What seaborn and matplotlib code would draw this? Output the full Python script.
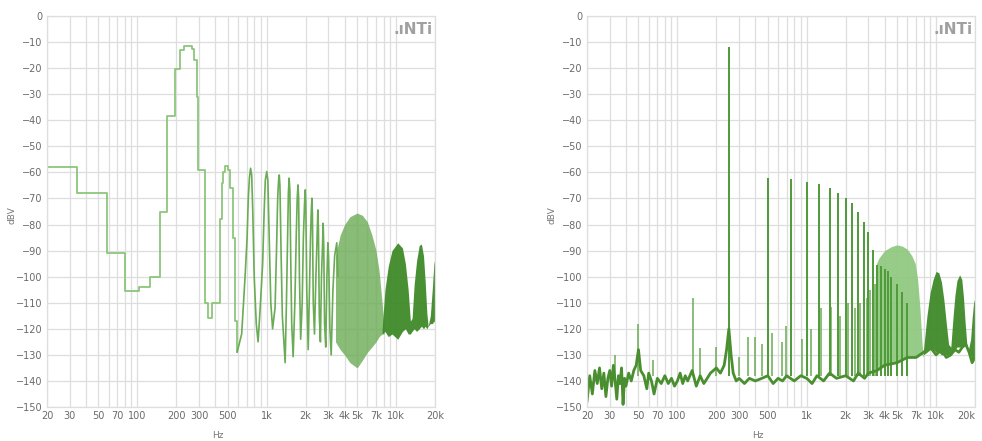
import numpy as np
import pandas as pd
import matplotlib
matplotlib.use("Agg")
import matplotlib.pyplot as plt
import seaborn as sns
from matplotlib.ticker import FixedLocator, NullFormatter

# --- left panel: low resolution spectrum (step trace) ---
step_hz = [20, 34, 58, 80, 102, 125, 150, 169, 195, 214, 230, 262, 272, 288, 296,
           334, 350, 380, 436, 448, 460, 474, 504, 519, 545, 567, 590]
step_db = [-58, -68, -91, -105.5, -104, -100, -75, -38.5, -20.5, -13, -11.5, -12.5,
           -17, -31, -59, -110, -116, -110, -78, -64, -60, -57.5, -59, -66, -85, -117, -129]

lobe_hz = [590, 640, 680, 705, 720, 735, 750, 765, 780, 800, 830, 857, 890, 930, 955,
           975, 1000, 1020, 1045, 1075, 1110, 1160, 1190, 1215, 1235, 1250, 1265, 1290,
           1320, 1388, 1420, 1450, 1470, 1490, 1510, 1535, 1560, 1600, 1650, 1690, 1720,
           1745, 1765, 1790, 1830, 1880, 1920, 1960, 1985, 2005, 2040, 2092, 2140, 2180,
           2210, 2235, 2255, 2290, 2340, 2400, 2450, 2485, 2510, 2550, 2600, 2650, 2700,
           2730, 2760, 2800, 2860, 2920, 2970, 3010, 3080, 3150, 3250, 3350, 3480, 3550]
lobe_db = [-129, -122, -100, -85, -70, -62, -58.4, -61, -75, -100, -118, -125, -112, -95,
           -75, -63, -59.7, -63, -85, -110, -120, -112, -90, -70, -63, -61, -65, -90,
           -115, -133, -110, -85, -68, -62.2, -67, -95, -118, -130.7, -110, -85, -70,
           -64.8, -70, -100, -124, -110, -85, -72, -66.7, -72, -105, -128, -105, -85,
           -75, -69.9, -76, -110, -122, -100, -85, -74.4, -82, -115, -125, -100, -88,
           -79.5, -88, -118, -127, -100, -87, -93, -120, -130, -105, -92, -87, -100]

# dense high frequency humps of the left panel (upper / lower envelope)
l_hump_hz = [3400, 3700, 4000, 4400, 5000, 5500, 6000, 6500, 7000, 7400, 7800, 8100]
l_hump_top = [-92, -84, -80, -77, -75.6, -76.5, -79, -84, -90, -98, -110, -120]
l_hump_low = [-125, -128, -130, -133, -135, -132, -129, -127, -125, -123, -122, -122]
l_lobes_hz = [7800, 8200, 8700, 9300, 10300, 11200, 11800, 12400, 12900, 13300, 13800,
              14400, 15100, 15700, 16300, 16800, 17300, 17700, 18400, 19100, 19600, 20000]
l_lobes_top = [-120, -105, -96, -90, -87, -89, -95, -105, -117, -116, -103, -94, -88,
               -87.5, -92, -102, -114, -119, -115, -104, -95, -93]
l_lobes_low = [-122, -121, -123, -122, -124, -121, -120, -122, -122, -121, -120, -121,
               -120, -119, -120, -119, -120, -119, -118, -118, -117, -118]

# --- right panel: high resolution FFT ---
noise_hz = [20, 21, 22, 23, 24, 25, 26, 27, 28, 29, 30, 31, 32, 33, 34, 35, 36, 37, 38,
            39, 40, 42, 44, 46, 48, 50, 52, 55, 58, 60, 63, 66, 70, 75, 80, 85, 90, 95,
            100, 105, 110, 115, 120, 130, 140, 150, 160, 170, 180, 190, 200, 215, 230,
            240, 250, 260, 270, 285, 300, 330, 360, 400, 450, 500, 550, 600, 650, 700,
            800, 900, 1000, 1100, 1200, 1350, 1500, 1700, 2000, 2300, 2500, 2800, 3000,
            3500, 4000, 5000, 6000, 7000, 8000, 9000, 10000, 11000, 12000, 13000, 14000,
            15000, 16000, 17000, 18000, 19000, 20000]
noise_db = [-148, -138, -145, -136, -141, -135, -143, -137, -146, -139, -136, -142, -134,
            -140, -147, -138, -141, -135, -149, -139, -142, -137, -140, -136, -134, -128,
            -136, -138, -143, -137, -140, -145, -139, -141, -138, -141, -139, -142, -140,
            -137, -141, -138, -140, -136, -142, -138, -141, -139, -137, -136, -135, -137,
            -134, -128, -120, -130, -137, -140, -139, -141, -139, -140, -139, -138, -141,
            -139, -140, -138, -140, -138, -139, -141, -138, -140, -137, -139, -138, -140,
            -137, -139, -137, -136, -134, -133, -131, -131, -129, -127, -130, -128, -131,
            -130, -128, -129, -127, -126, -129, -133, -131]

harm_hz = [250, 500, 750, 1000, 1250, 1500, 1750, 2000, 2250, 2500, 2750, 3000, 3250,
           3500, 3750, 4000, 4250, 4500, 5000, 5500, 6000]
harm_db = [-12, -62.3, -62.7, -63.5, -64.4, -65.8, -67.8, -69.9, -71.9, -75, -78.9,
           -82.7, -89.8, -95.5, -96, -97, -98, -100, -103, -106, -110]

minor_hz = [33, 50, 65, 131, 150, 200, 300, 350, 400, 450, 540, 640, 690, 925, 1075,
            1300, 1550, 1800, 2100, 2350, 2600, 2900, 3100, 3400]
minor_db = [-130, -118, -132, -108, -127.5, -127, -131, -123, -123, -126, -121.7, -125,
            -119, -124, -120, -112, -111.5, -115, -110, -112, -110, -108, -105, -103]

r_hump_hz = [3400, 3600, 4000, 4500, 5000, 5500, 6000, 6500, 6900, 7200, 7500, 7800, 8000]
r_hump_db = [-96, -93, -90, -88.5, -87.8, -88.3, -89.5, -92, -95, -101, -112, -126, -131]
r_hump_low = [-135, -135, -134, -133, -133, -132, -131, -131, -131, -131, -130, -130, -131]
r_lobes_hz = [8000, 8500, 9000, 9500, 10000, 10500, 11000, 11500, 12000, 12500, 13000,
              13500, 14000, 14500, 15200, 15800, 16300, 16800, 17300, 17800, 18500, 19000,
              19500, 20000]
r_lobes_db = [-128, -115, -106, -101, -98, -98.5, -102, -109, -118, -126, -127, -116,
              -107, -101.5, -99.3, -101, -108, -118, -126, -128, -124, -116, -110, -108]
r_lobes_low = [-130, -129, -128, -128, -129, -129, -130, -130, -130, -130, -130, -129,
               -128, -127, -127, -127, -126, -126, -127, -128, -130, -132, -132, -131]

tick_hz = [20, 30, 50, 70, 100, 200, 300, 500, 1000, 2000, 3000, 4000, 5000, 7000, 10000, 20000]
tick_lab = ["20", "30", "50", "70", "100", "200", "300", "500", "1k", "2k", "3k", "4k",
            "5k", "7k", "10k", "20k"]
grid_hz = [40, 60, 80, 90, 400, 600, 700, 800, 900, 6000, 8000, 9000]

floor_db = -138

sns.set_theme(style="whitegrid")
plt.rcParams["font.family"] = ["DejaVu Sans"]

fig = plt.figure(figsize=(9.82, 4.41), dpi=100)
ax1 = fig.add_axes([47 / 982, 1 - 407 / 441, 388 / 982, 391 / 441])
ax2 = fig.add_axes([587 / 982, 1 - 407 / 441, 388 / 982, 391 / 441])

light = "#8cc67b"
mid = "#6aab55"
dark = "#3f8a2a"

# left panel
sns.lineplot(x=step_hz, y=step_db, ax=ax1, color=light, lw=1.3,
             drawstyle="steps-post", estimator=None, sort=False)
ax1.fill_between(l_hump_hz, l_hump_low, l_hump_top, color=mid, alpha=0.8, lw=0)
sns.lineplot(x=lobe_hz, y=lobe_db, ax=ax1, color=mid, lw=1.2,
             estimator=None, sort=False)
ax1.fill_between(l_lobes_hz, l_lobes_low, l_lobes_top, color=dark, alpha=0.95, lw=0)

# right panel
ax2.fill_between(r_hump_hz, r_hump_low, r_hump_db, color=light, alpha=0.9, lw=0)
ax2.fill_between(r_lobes_hz, r_lobes_low, r_lobes_db, color=dark, alpha=0.95, lw=0)
ax2.vlines(minor_hz, floor_db, minor_db, color=mid, lw=1.1)
ax2.vlines(harm_hz, floor_db, harm_db, color="#4f9a38", lw=1.4)
sns.lineplot(x=noise_hz, y=noise_db, ax=ax2, color="#4a8f2f", lw=2.0,
             estimator=None, sort=False)

for ax in (ax1, ax2):
    ax.set_xscale("log")
    ax.set_xlim(20, 20000)
    ax.set_ylim(-150, 0)
    ax.xaxis.set_major_locator(FixedLocator(tick_hz))
    ax.set_xticklabels(tick_lab)
    ax.xaxis.set_minor_locator(FixedLocator(grid_hz))
    ax.xaxis.set_minor_formatter(NullFormatter())
    ax.set_yticks(np.arange(-150, 1, 10))
    ax.grid(True, which="both", color="#dedede", lw=0.9)
    ax.tick_params(axis="both", which="both", length=0, labelsize=7,
                   labelcolor="#6a6a6a", pad=3)
    for s in ax.spines.values():
        s.set_color("#dedede")
        s.set_linewidth(0.9)
    ax.set_xlabel("Hz", fontsize=6.5, color="#777777")
    ax.set_ylabel("dBV", fontsize=6.5, color="#777777")
    ax.xaxis.set_label_coords(0.44, -0.062)
    ax.yaxis.set_label_coords(-0.078, 0.49)
    ax.text(0.995, 0.985, ".ıNTi", transform=ax.transAxes, ha="right", va="top",
            fontsize=11, fontweight="bold", color="#a0a0a0")

# keep the last label of the right panel inside the figure
ax2.get_xticklabels()[-1].set_horizontalalignment("right")

fig.savefig("out.png", dpi=100)
